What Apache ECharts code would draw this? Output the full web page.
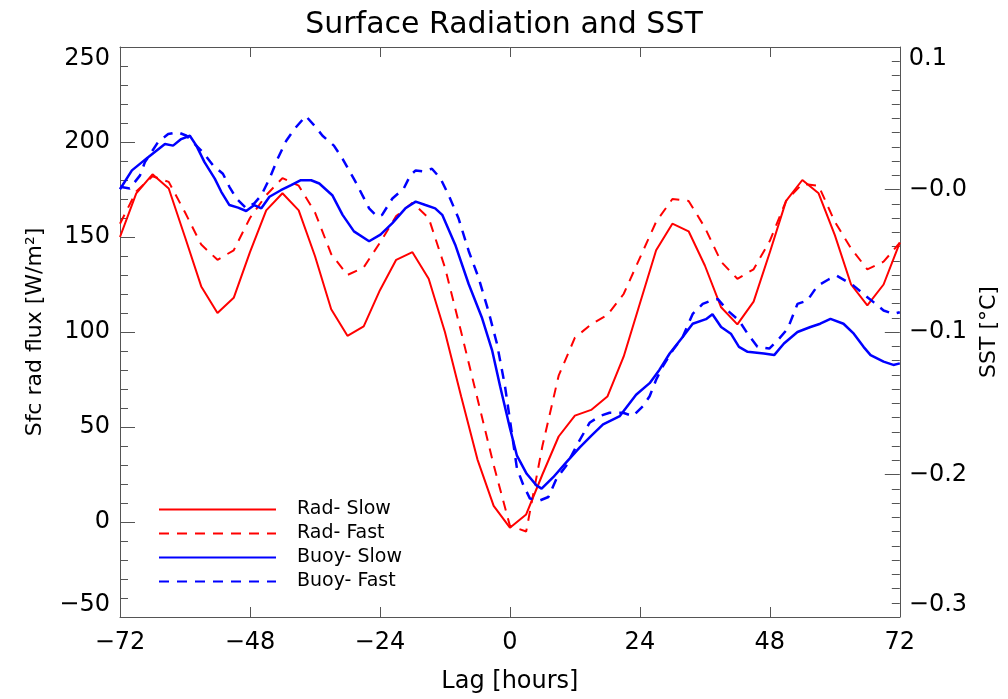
<!DOCTYPE html>
<html>
<head>
<meta charset="utf-8">
<script src="https://cdn.jsdelivr.net/npm/echarts@6/dist/echarts.min.js"></script>
<style>html,body{margin:0;padding:0;background:#fff;}#c{width:1008px;height:699px;}</style>
</head>
<body>
<div id="c"></div>
<script>
// ---- data ----
var radHours = [-72,-69,-66,-63,-60,-57,-54,-51,-48,-45,-42,-39,-36,-33,-30,-27,-24,-21,-18,-15,-12,-9,-6,-3,0,3,6,9,12,15,18,21,24,27,30,33,36,39,42,45,48,51,54,57,60,63,66,69,72];
var radSlow = [150,173,183,175.5,150,124,110,118,142,164,173,164,140,112,98,103,122,138,142,128,100,66,33,8.5,-3,4,25,45,56,59,66,87,115,143,157,153,135,113,104,116,142,169,180,173,151,125,114,125,147];
var radFast = [157,174,182,179,163,146,138,143,160,172,181,177,163,141,130,134,147,161,168,160,134,100,65,30,-2,-5,40,77,97,104,109,120,139,158,170,169,155,137,128,133,148,169,178,177,158,144,133,137,147];

var buoySlowHours = [-72,-69.8,-66.8,-63.7,-62.2,-60.7,-59.1,-57.9,-56.4,-54.5,-53.3,-51.8,-50.2,-48.7,-47.2,-45.9,-44.4,-42.3,-40.4,-38.6,-36.7,-35.2,-32.8,-30.9,-28.8,-26.0,-23.9,-21.7,-19.3,-17.4,-15.6,-13.8,-12.5,-10.1,-7.6,-5.2,-3.3,-1.8,0,1.3,3.1,4.9,5.85,8.0,10.4,12.9,15.0,17.2,20.3,23.3,25.8,27.6,29.5,31.9,33.75,36.2,37.4,39.0,40.8,42.3,43.9,46.9,48.8,50.6,53.1,55.5,57.3,59.2,61.6,63.5,65.3,66.6,69.0,70.8,72];
var buoySlow = [0.0002,0.0134,0.0227,0.0319,0.0308,0.0354,0.0377,0.0308,0.0192,0.0076,-0.0016,-0.0109,-0.0127,-0.0151,-0.0109,-0.0132,-0.0051,-0.0005,0.0030,0.0065,0.0065,0.0042,-0.0040,-0.0178,-0.0294,-0.0363,-0.0317,-0.0236,-0.0132,-0.0085,-0.0109,-0.0132,-0.0178,-0.0387,-0.0665,-0.0896,-0.1127,-0.1382,-0.1674,-0.1868,-0.1995,-0.2076,-0.2099,-0.2019,-0.1915,-0.1810,-0.1729,-0.1648,-0.1590,-0.1440,-0.1359,-0.1266,-0.1151,-0.1035,-0.0942,-0.0910,-0.0875,-0.0965,-0.1012,-0.1104,-0.1139,-0.1151,-0.1162,-0.1081,-0.1000,-0.0965,-0.0942,-0.0908,-0.0942,-0.1012,-0.1104,-0.1162,-0.1208,-0.1231,-0.1220];

var buoyFastHours = [-72,-70.2,-68.3,-67.4,-65.0,-63.1,-61.3,-59.7,-58.2,-56.7,-54.8,-53.0,-51.8,-50.5,-48.7,-47.2,-45.9,-44.4,-42.9,-41.3,-39.8,-37.7,-35.8,-34.6,-32.5,-30.9,-28.5,-26.0,-24.5,-23.6,-21.7,-19.6,-18.4,-17.4,-15.9,-14.4,-12.8,-11.3,-9.5,-7.6,-5.8,-4.0,-2.4,-0.9,0.3,1.3,2.5,3.7,5.6,7.1,8.6,10.4,12.3,14.7,16.6,18.4,20.9,22.7,24.55,25.8,27.0,28.2,30.1,31.9,33.75,35.6,37.1,38.4,40.2,42.3,43.9,45.7,47.9,49.7,51.3,53.1,54.9,56.8,58.9,60.4,62.0,63.5,65.3,67.2,69.0,70.8,72];
var buoyFast = [0.0019,0.0007,0.0099,0.0192,0.0331,0.0389,0.0401,0.0377,0.0319,0.0262,0.0169,0.0111,0.0019,-0.0063,-0.0132,-0.0097,-0.0040,0.0076,0.0215,0.0342,0.0424,0.0516,0.0435,0.0377,0.0308,0.0215,0.0053,-0.0132,-0.0190,-0.0178,-0.0063,0.0007,0.0099,0.0134,0.0127,0.0146,0.0076,-0.0040,-0.0201,-0.0433,-0.0618,-0.0849,-0.1081,-0.1382,-0.1694,-0.1958,-0.2076,-0.2169,-0.2181,-0.2158,-0.2030,-0.1938,-0.1799,-0.1637,-0.1590,-0.1567,-0.1567,-0.1590,-0.1521,-0.1451,-0.1335,-0.1243,-0.1127,-0.1035,-0.0873,-0.0803,-0.0780,-0.0769,-0.0849,-0.0919,-0.1012,-0.1104,-0.1116,-0.1047,-0.0977,-0.0803,-0.0780,-0.0676,-0.0630,-0.0606,-0.0641,-0.0676,-0.0734,-0.0792,-0.0849,-0.0873,-0.0861];

var seriesNames = ['Rad- Slow', 'Rad- Fast', 'Buoy- Slow', 'Buoy- Fast'];
var titleText = 'Surface Radiation and SST';
var xName = 'Lag [hours]';
var yLeftName = 'Sfc rad flux [W/m\u00B2]';
var yRightName = 'SST [\u00B0C]';

// ---- build ----
function zip(h, v) { return h.map(function (x, i) { return [x, v[i]]; }); }
function minus(s) { return String(s).replace('-', '\u2212'); }

var FONT = 'DejaVu Sans';
var AXC = '#555';
var chart = echarts.init(document.getElementById('c'), null, { renderer: 'canvas' });

function axisLineCfg() { return { show: true, onZero: false, lineStyle: { color: AXC, width: 1 } }; }

var option = {
  animation: false,
  backgroundColor: '#fff',
  title: {
    text: titleText, left: 'center', top: 5,
    textStyle: { fontFamily: FONT, fontSize: 30, fontWeight: 'normal', color: '#000' }
  },
  grid: { left: 120, right: 105, top: 47, bottom: 76, containLabel: false },
  legend: {
    orient: 'vertical', left: 158, top: 500, padding: 0,
    itemWidth: 117, itemHeight: 14, itemGap: 5,
    data: seriesNames,
    itemStyle: { opacity: 0 },
    textStyle: { fontFamily: FONT, fontSize: 19, color: '#000', padding: [0, 0, 0, 16] }
  },
  xAxis: [{
    type: 'value', min: -72, max: 72, interval: 24, position: 'bottom',
    name: xName, nameLocation: 'middle', nameGap: 53,
    nameTextStyle: { fontFamily: FONT, fontSize: 24, color: '#000' },
    axisLine: axisLineCfg(),
    axisTick: { show: true, inside: true, length: 10, lineStyle: { color: AXC } },
    axisLabel: { fontFamily: FONT, fontSize: 24, color: '#000', margin: 14, formatter: function (v) { return minus(v); } },
    splitLine: { show: false }
  }, {
    type: 'value', min: -72, max: 72, interval: 24, position: 'top',
    axisLine: axisLineCfg(),
    axisTick: { show: true, inside: true, length: 10, lineStyle: { color: AXC } },
    axisLabel: { show: false },
    splitLine: { show: false }
  }],
  yAxis: [{
    type: 'value', min: -50, max: 250, interval: 50, position: 'left',
    name: yLeftName, nameLocation: 'middle', nameGap: 74, nameRotate: 90,
    nameTextStyle: { fontFamily: FONT, fontSize: 22, color: '#000' },
    axisLine: axisLineCfg(),
    axisTick: { show: true, inside: true, length: 15, lineStyle: { color: AXC } },
    minorTick: { show: true, splitNumber: 5, length: 8, lineStyle: { color: AXC } },
    axisLabel: {
      fontFamily: FONT, fontSize: 24, color: '#000', margin: 10,
      verticalAlignMinLabel: 'bottom', verticalAlignMaxLabel: 'top',
      formatter: function (v) { return minus(v); }
    },
    splitLine: { show: false }
  }, {
    type: 'value', min: -0.3, max: 0.1, interval: 0.1, position: 'right',
    name: yRightName, nameLocation: 'middle', nameGap: 72, nameRotate: 90,
    nameTextStyle: { fontFamily: FONT, fontSize: 22, color: '#000' },
    axisLine: axisLineCfg(),
    axisTick: { show: true, inside: true, length: 15, lineStyle: { color: AXC } },
    minorTick: { show: true, splitNumber: 10, length: 8, lineStyle: { color: AXC } },
    axisLabel: {
      fontFamily: FONT, fontSize: 24, color: '#000', margin: 9,
      verticalAlignMinLabel: 'bottom', verticalAlignMaxLabel: 'top',
      formatter: function (v) {
        var r = Math.round(v * 10) / 10;
        if (r === 0) return '\u22120.0';
        return minus(r.toFixed(1));
      }
    },
    splitLine: { show: false }
  }],
  series: [{
    name: seriesNames[0], type: 'line', yAxisIndex: 0, symbol: 'none', smooth: false,
    data: zip(radHours, radSlow),
    itemStyle: { color: '#ff0000' },
    lineStyle: { color: '#ff0000', width: 2, type: 'solid' }
  }, {
    name: seriesNames[1], type: 'line', yAxisIndex: 0, symbol: 'none', smooth: false,
    data: zip(radHours, radFast),
    itemStyle: { color: '#ff0000' },
    lineStyle: { color: '#ff0000', width: 2, type: [10, 8] }
  }, {
    name: seriesNames[2], type: 'line', yAxisIndex: 1, symbol: 'none', smooth: false,
    data: zip(buoySlowHours, buoySlow),
    itemStyle: { color: '#0000ff' },
    lineStyle: { color: '#0000ff', width: 2.5, type: 'solid' }
  }, {
    name: seriesNames[3], type: 'line', yAxisIndex: 1, symbol: 'none', smooth: false,
    data: zip(buoyFastHours, buoyFast),
    itemStyle: { color: '#0000ff' },
    lineStyle: { color: '#0000ff', width: 2.5, type: [10, 8] }
  }]
};
chart.setOption(option);
</script>
</body>
</html>
